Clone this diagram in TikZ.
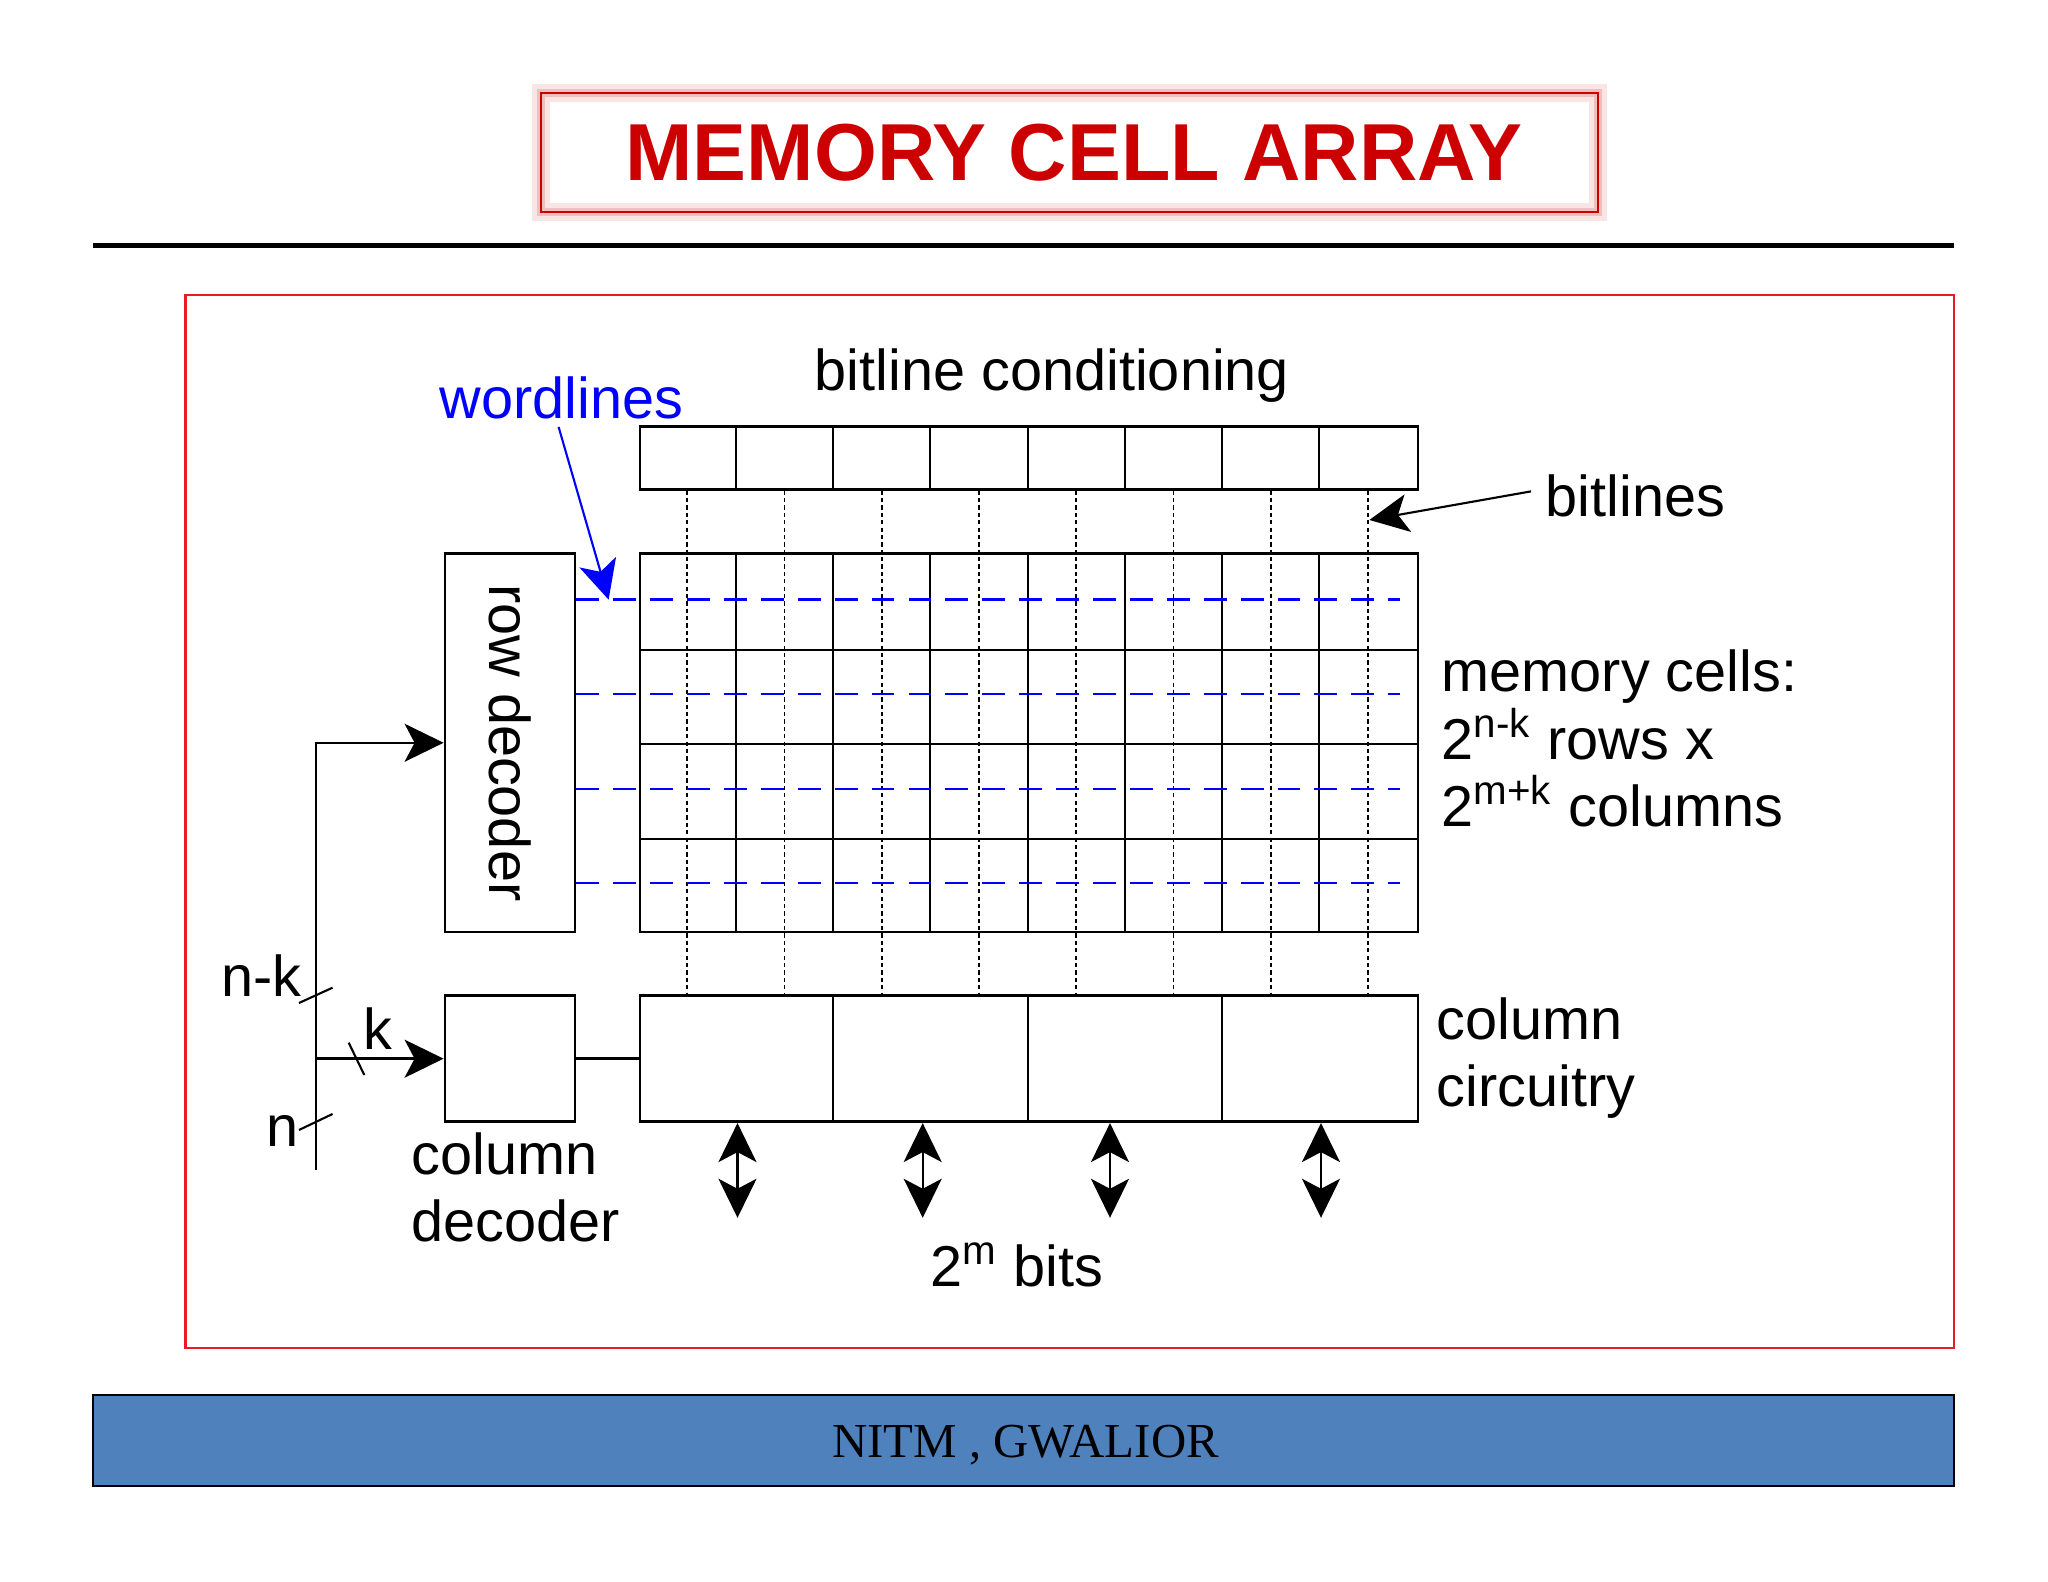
\documentclass[tikz,border=0pt]{standalone}
\usepackage{fontspec}
\setmainfont{Liberation Sans}
\newfontfamily\footfont{Liberation Serif}
\usetikzlibrary{arrows.meta,calc,positioning}
\definecolor{titlered}{RGB}{204,0,0}
\definecolor{framered}{RGB}{232,28,36}
\definecolor{barblue}{RGB}{79,129,189}
\definecolor{wordblue}{RGB}{0,0,255}

\begin{document}
\begin{tikzpicture}[>={Stealth[length=0.39cm,width=0.38cm,inset=0.1cm]},
  blk/.style={draw,line width=0.8pt,inner sep=0pt},
  lbl/.style={inner sep=0pt,font=\fontsize{16.4}{19}\selectfont},
  bitln/.style={line width=0.5pt,dash pattern=on 1.2pt off 0.9pt},
  wordln/.style={wordblue,line width=0.6pt,dash pattern=on 6.5pt off 4pt},
  slash/.style={line width=0.6pt}]
\useasboundingbox (0,0) rectangle (20.48,15.82);
\fill[white] (0,0) rectangle (20.48,15.82);
% naglowek z poswiata
\draw[titlered!10,line width=5pt] (5.41,13.70) rectangle (15.98,14.89);
\draw[titlered!25,line width=2.5pt] (5.41,13.70) rectangle (15.98,14.89);
\draw[titlered,line width=0.8pt] (5.41,13.70) rectangle (15.98,14.89);
\node[titlered,font=\fontsize{23}{27}\selectfont\bfseries] (title) at (10.74,14.29) {MEMORY CELL ARRAY};
\draw[line width=1.5pt] (0.93,13.365) -- (19.54,13.365);
% ramka
\draw[framered,line width=0.6pt] (1.855,2.34) rectangle (19.54,12.87);
% stopka
\draw[fill=barblue,line width=0.8pt] (0.93,0.96) rectangle (19.54,1.87);
\node[anchor=base,inner sep=0pt,font=\footfont\fontsize{13.9}{16}\selectfont] (foot) at (10.255,1.24) {NITM , GWALIOR};
% --- bitline conditioning ---
\node[blk,minimum width=7.78cm,minimum height=0.625cm] (cond) at (10.29,11.24) {};
\foreach \i in {1,...,7}
  \draw[line width=0.6pt] ($(cond.south west)+(\i*0.9725,0)$) -- ($(cond.north west)+(\i*0.9725,0)$);
% --- macierz komorek ---
\node[blk,minimum width=7.78cm,minimum height=3.784cm] (cells) at (10.29,8.392) {};
\foreach \i in {1,...,7}
  \draw[line width=0.6pt] ($(cells.south west)+(\i*0.9725,0)$) -- ($(cells.north west)+(\i*0.9725,0)$);
\foreach \j in {1,2,3}
  \draw[line width=0.6pt] ($(cells.south west)+(0,\j*0.946)$) -- ($(cells.south east)+(0,\j*0.946)$);
% dekodery i uklady kolumn
\node[blk,minimum width=1.30cm,minimum height=3.784cm] (rowdec) at (5.10,8.392) {};
\node[lbl,rotate=-90] (rowlbl) at (rowdec.center) {row decoder};
\node[blk,minimum width=1.30cm,minimum height=1.26cm] (coldec) at (5.10,5.233) {};
\node[blk,minimum width=7.78cm,minimum height=1.26cm] (colcirc) at (10.29,5.233) {};
\foreach \i in {1,2,3}
  \draw[line width=0.6pt] ($(colcirc.south west)+(\i*1.945,0)$) -- ($(colcirc.north west)+(\i*1.945,0)$);
% bitlines i wordlines
\foreach \i in {0,...,7}
  \draw[bitln] ($(cond.south west)+(0.486+\i*0.9725,0)$) -- ($(colcirc.north west)+(0.486+\i*0.9725,0)$);
\foreach \j in {0,...,3}
  \draw[wordln] ($(rowdec.north east)+(0,-0.473-\j*0.946)$) -- ++(8.24,0);
% --- adres ---
\coordinate (busbot) at (3.16,4.12);
\draw[line width=0.7pt,->] (busbot) |- (rowdec.west);
\draw[line width=0.7pt,->] (busbot |- coldec.west) -- (coldec.west);
\draw[line width=0.7pt] (coldec.east) -- (colcirc.west);
\draw[slash] (2.99,5.79) -- (3.326,5.943);
\draw[slash] (3.487,5.393) -- (3.643,5.07);
\draw[slash] (2.99,4.52) -- (3.326,4.68);
\node[lbl,anchor=base east] (nklbl) at (3.018,5.85) {n-k};
\node[lbl,anchor=base west] (klbl) at (3.63,5.32) {k};
\node[lbl,anchor=base west] (nlbl) at (2.66,4.353) {n};
% dane
\foreach \x in {7.375,9.227,11.10,13.21}
  \draw[<->,line width=0.6pt] (\x,0 |- colcirc.south) -- ++(0,-0.947);
% --- opisy ---
\node[lbl,anchor=base] (condlbl) at (10.52,11.91) {bitline conditioning};
\node[lbl,wordblue,anchor=base] (wlbl) at (5.616,11.633) {wordlines};
\coordinate (wl1) at (6.086,9.823);
\draw[wordblue,line width=0.6pt,->] ([shift={(-0.03,-0.07)}]wlbl.south) -- (wl1);
\node[lbl,anchor=base west] (blbl) at (15.45,10.65) {bitlines};
\coordinate (bl8) at (13.694,10.62);
\draw[line width=0.6pt,->] ([shift={(-0.14,0.05)}]blbl.west) -- (bl8);
% wezly wielowierszowe: base = ostatni wiersz
\node[lbl,anchor=base west,align=left,font=\fontsize{16.4}{19.3}\selectfont] (memlbl) at (14.41,7.55)
  {memory cells:\\2\textsuperscript{n-k} rows x\\2\textsuperscript{m+k} columns};
\node[lbl,anchor=base west,align=left] (circlbl) at (14.36,4.753) {column\\circuitry};
\node[lbl,anchor=base west,align=left] (declbl) at (4.107,3.403) {column\\decoder};
\node[lbl,anchor=base west] (bitslbl) at (9.297,2.95) {2\textsuperscript{m} bits};
\end{tikzpicture}
\end{document}
